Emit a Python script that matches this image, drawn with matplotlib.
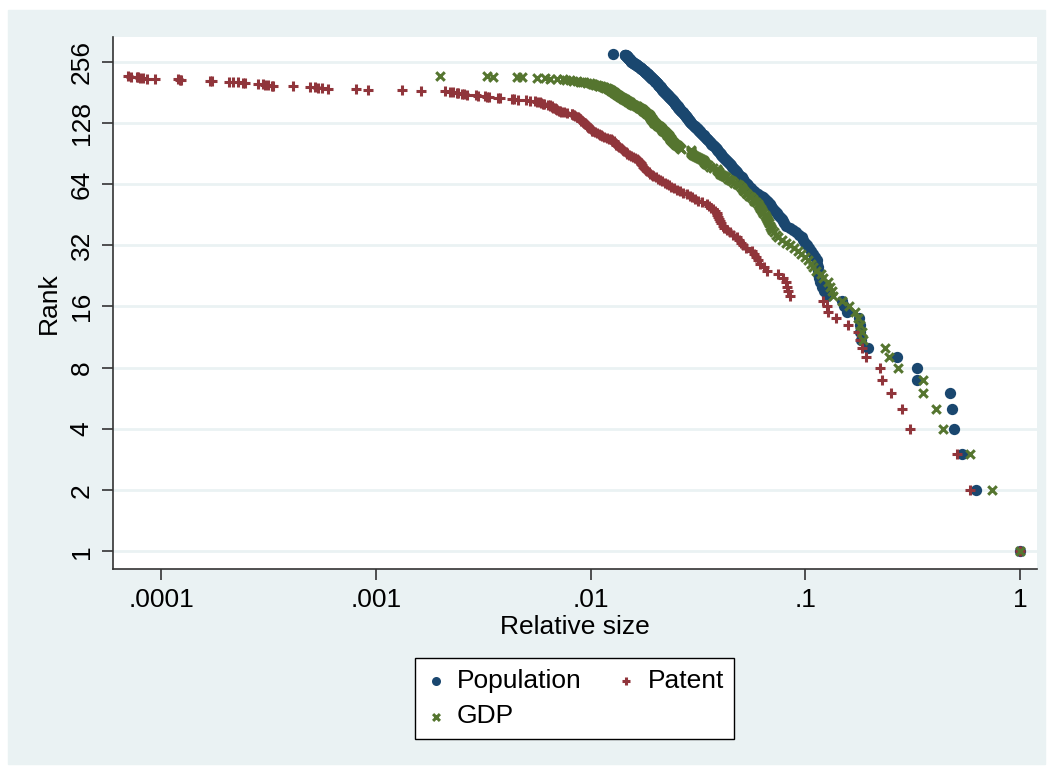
import matplotlib
matplotlib.use("Agg")
import matplotlib.pyplot as plt
from matplotlib.patches import Rectangle
import numpy as np

plt.rcParams['font.family'] = ['Liberation Sans', 'DejaVu Sans']

# relative size of each city, listed by rank (rank 1 first)
population = [
    1.0, 0.624, 0.538, 0.493, 0.482, 0.474, 0.330, 0.330, 0.267, 0.195,
    0.181, 0.179, 0.179, 0.178, 0.156, 0.152, 0.148, 0.126, 0.122, 0.119,
    0.117, 0.116, 0.115, 0.1145, 0.114, 0.1135, 0.113, 0.111, 0.109, 0.1065,
    0.1045, 0.102, 0.0995, 0.098, 0.0965, 0.0935, 0.0905, 0.0875, 0.0845, 0.0815,
    0.0800, 0.0787, 0.0775, 0.0762, 0.0749, 0.0735, 0.0720, 0.0706, 0.0697, 0.0690,
    0.0683, 0.0672, 0.0660, 0.0648, 0.0636, 0.0620, 0.0604, 0.0590, 0.0578, 0.0567,
    0.0557, 0.0548, 0.0540, 0.0533, 0.0527, 0.0521, 0.0515, 0.0510, 0.0505, 0.0499,
    0.0492, 0.0486, 0.0481, 0.0476, 0.0471, 0.0466, 0.0461, 0.0456, 0.0451, 0.0446,
    0.0441, 0.0436, 0.0431, 0.0426, 0.0422, 0.0418, 0.0414, 0.0410, 0.0407, 0.0403,
    0.0400, 0.0396, 0.0393, 0.0389, 0.0386, 0.0382, 0.0379, 0.0375, 0.0372, 0.0368,
    0.0365, 0.0362, 0.0358, 0.0355, 0.0352, 0.0349, 0.0347, 0.0344, 0.0341, 0.0339,
    0.0336, 0.0333, 0.0331, 0.0328, 0.0325, 0.0323, 0.0320, 0.0318, 0.0315, 0.0312,
    0.0310, 0.0307, 0.0305, 0.0302, 0.0300, 0.0298, 0.0295, 0.0293, 0.0290, 0.0289,
    0.0287, 0.0286, 0.0284, 0.0283, 0.0281, 0.0280, 0.0278, 0.0277, 0.0275, 0.0274,
    0.0272, 0.0271, 0.0269, 0.0268, 0.0266, 0.0265, 0.0264, 0.0262, 0.0261, 0.0259,
    0.0258, 0.0256, 0.0255, 0.0254, 0.0253, 0.0251, 0.0250, 0.0249, 0.0248, 0.0247,
    0.0245, 0.0244, 0.0243, 0.0242, 0.0241, 0.0239, 0.0238, 0.0237, 0.0236, 0.0235,
    0.0233, 0.0232, 0.0231, 0.0230, 0.0229, 0.0227, 0.0226, 0.0225, 0.0224, 0.0223,
    0.0221, 0.0220, 0.0219, 0.0218, 0.0217, 0.0216, 0.0215, 0.0214, 0.0213, 0.0213,
    0.0212, 0.0211, 0.0210, 0.0209, 0.0208, 0.0207, 0.0206, 0.0206, 0.0205, 0.0204,
    0.0203, 0.0202, 0.0201, 0.0200, 0.0199, 0.0199, 0.0198, 0.0197, 0.0196, 0.0195,
    0.0194, 0.0193, 0.0192, 0.0192, 0.0191, 0.0190, 0.0189, 0.0188, 0.0187, 0.0186,
    0.0185, 0.0185, 0.0184, 0.0183, 0.0182, 0.0181, 0.0180, 0.0180, 0.0179, 0.0178,
    0.0177, 0.0176, 0.0175, 0.0174, 0.0173, 0.0172, 0.0172, 0.0171, 0.0170, 0.0169,
    0.0168, 0.0167, 0.0166, 0.0165, 0.0164, 0.0164, 0.0163, 0.0162, 0.0161, 0.0160,
    0.0159, 0.0158, 0.0157, 0.0157, 0.0156, 0.0155, 0.0154, 0.0154, 0.0153, 0.0153,
    0.0152, 0.0152, 0.0151, 0.0151, 0.0150, 0.0150, 0.0149, 0.0149, 0.0148, 0.0148,
    0.0147, 0.0147, 0.0146, 0.0146, 0.0145, 0.01445, 0.0144, 0.01276,
]

patent = [
    1.0, 0.585, 0.507, 0.307, 0.283, 0.251, 0.227, 0.223, 0.191, 0.183,
    0.180, 0.1766, 0.1585, 0.139, 0.128, 0.1258, 0.1213, 0.0848, 0.0835, 0.0825,
    0.0812, 0.0790, 0.0749, 0.0661, 0.0640, 0.0615, 0.0600, 0.0588, 0.0576, 0.0565,
    0.0530, 0.0510, 0.0500, 0.0490, 0.0480, 0.0462, 0.0445, 0.0431, 0.0418, 0.0412,
    0.0406, 0.0401, 0.0396, 0.0392, 0.0389, 0.0386, 0.0380, 0.0372, 0.0364, 0.0355,
    0.0347, 0.0330, 0.0315, 0.0308, 0.0298, 0.0290, 0.0280, 0.0268, 0.0260, 0.0252,
    0.0244, 0.0237, 0.0231, 0.0226, 0.0221, 0.0216, 0.0211, 0.0206, 0.0201, 0.0196,
    0.0193, 0.0190, 0.0187, 0.0184, 0.0181, 0.0179, 0.0177, 0.0175, 0.0173, 0.0172,
    0.0171, 0.0170, 0.0168, 0.0166, 0.0164, 0.0161, 0.0158, 0.0155, 0.0151, 0.0148,
    0.0147, 0.0146, 0.0143, 0.0141, 0.0140, 0.0139, 0.0136, 0.0134, 0.0133, 0.0132,
    0.0131, 0.0130, 0.0129, 0.0128, 0.0126, 0.0124, 0.0122, 0.0119, 0.0116, 0.0113,
    0.0112, 0.0111, 0.0110, 0.0107, 0.0105, 0.0103, 0.0102, 0.0101, 0.0100, 0.0099,
    0.0098, 0.0097, 0.0097, 0.0096, 0.0096, 0.0095, 0.0094, 0.0093, 0.0092, 0.0091,
    0.0090, 0.0090, 0.0089, 0.0089, 0.0088, 0.0087, 0.0086, 0.0085, 0.0084, 0.0083,
    0.0082, 0.0082, 0.0078, 0.0075, 0.0073, 0.0072, 0.0071, 0.0070, 0.0069, 0.0069,
    0.0068, 0.0067, 0.0066, 0.0066, 0.0065, 0.0065, 0.0063, 0.0061, 0.0060, 0.0059,
    0.0058, 0.0056, 0.0055, 0.0052, 0.0050, 0.0046, 0.0044, 0.0043, 0.0038, 0.0037,
    0.00335, 0.00328, 0.00322, 0.0030, 0.00292, 0.00265, 0.00258, 0.00251, 0.00242, 0.00238,
    0.00229, 0.00221, 0.0021, 0.00163, 0.00132, 0.00092, 0.00081, 0.00060, 0.00056, 0.00054,
    0.00052, 0.000493, 0.000412, 0.00033, 0.000327, 0.000315, 0.000305, 0.000299, 0.000283, 0.000245,
    0.000241, 0.000229, 0.000217, 0.000206, 0.000172, 0.000169, 0.000124, 0.000122, 0.000120, 0.0000935,
    0.0000855, 0.0000822, 0.0000797, 0.0000782, 0.0000769, 0.0000720, 0.0000703,
]

gdp = [
    1.0, 0.743, 0.585, 0.4365, 0.405, 0.354, 0.352, 0.271, 0.246, 0.235,
    0.186, 0.183, 0.180, 0.1766, 0.170, 0.160, 0.148, 0.135, 0.133, 0.1303,
    0.128, 0.1213, 0.118, 0.1125, 0.109, 0.106, 0.1025, 0.0995, 0.096, 0.092,
    0.0885, 0.0849, 0.081, 0.078, 0.0750, 0.0730, 0.0716, 0.0703, 0.0690, 0.0682,
    0.0674, 0.0667, 0.0660, 0.0653, 0.0646, 0.0638, 0.0630, 0.0623, 0.0617, 0.0609,
    0.0599, 0.0589, 0.0579, 0.0569, 0.0558, 0.0548, 0.0538, 0.0529, 0.0521, 0.0514,
    0.0508, 0.0502, 0.0490, 0.0480, 0.0468, 0.0456, 0.0446, 0.0437, 0.0428, 0.0418,
    0.0409, 0.0401, 0.0396, 0.0392, 0.0389, 0.0387, 0.0372, 0.0360, 0.0352, 0.0345,
    0.0340, 0.0338, 0.0336, 0.0335, 0.0328, 0.0320, 0.0313, 0.0306, 0.0300, 0.0296,
    0.0295, 0.0294, 0.0294, 0.0292, 0.0265, 0.0261, 0.0258, 0.0255, 0.0252, 0.0249,
    0.0246, 0.0244, 0.0242, 0.0240, 0.0238, 0.0236, 0.0235, 0.0234, 0.0233, 0.0231,
    0.0229, 0.0227, 0.0226, 0.0224, 0.0222, 0.0220, 0.0218, 0.0216, 0.0214, 0.0213,
    0.0212, 0.0211, 0.0208, 0.0206, 0.0204, 0.0202, 0.0200, 0.0198, 0.0197, 0.0196,
    0.0195, 0.0194, 0.0193, 0.0192, 0.0191, 0.0190, 0.0189, 0.0189, 0.0188, 0.0188,
    0.0186, 0.0184, 0.0182, 0.0180, 0.0179, 0.0177, 0.0176, 0.0175, 0.0174, 0.0171,
    0.0169, 0.0168, 0.0166, 0.0164, 0.0162, 0.0160, 0.0158, 0.0156, 0.0154, 0.0153,
    0.0152, 0.0150, 0.0149, 0.0148, 0.0146, 0.0145, 0.0144, 0.0142, 0.0141, 0.0140,
    0.0138, 0.0137, 0.0136, 0.0135, 0.0134, 0.0133, 0.0132, 0.0131, 0.0130, 0.0129,
    0.0128, 0.0127, 0.0126, 0.0125, 0.0124, 0.0123, 0.0122, 0.0120, 0.0119, 0.0117,
    0.0115, 0.0114, 0.0112, 0.0110, 0.0109, 0.0107, 0.0105, 0.0103, 0.0101, 0.0099,
    0.0096, 0.0093, 0.0091, 0.0089, 0.0086, 0.0083, 0.0080, 0.0077, 0.0074, 0.00695,
    0.00647, 0.00613, 0.00561, 0.00478, 0.00453, 0.00352, 0.00328, 0.00199,
]

x_ticks = [0.0001, 0.001, 0.01, 0.1, 1]
x_tick_labels = [".0001", ".001", ".01", ".1", "1"]
y_ticks = [1, 2, 4, 8, 16, 32, 64, 128, 256]

navy = "#1a476f"
maroon = "#90353b"
green = "#55752f"
region = "#eaf2f3"
axis_col = "#333333"

W, H = 1053, 774
fig = plt.figure(figsize=(W / 100, H / 100), dpi=100)
# light graph region behind everything, with a thin white margin
fig.add_artist(Rectangle((8 / W, 10 / H), (1045 - 8) / W, (764 - 10) / H,
                         transform=fig.transFigure, color=region, zorder=-10))

ax = fig.add_axes([113 / W, 1 - 569 / H, (1037 - 113) / W, (569 - 37) / H])
ax.set_facecolor("white")

fs = 19
p1 = ax.scatter(population, np.arange(1, len(population) + 1), s=66, marker="o",
                color=navy, linewidths=0, zorder=3, label="Population")
p2 = ax.scatter(patent, np.arange(1, len(patent) + 1), s=55, marker="+",
                color=maroon, linewidths=2.2, zorder=4, label="Patent")
p3 = ax.scatter(gdp, np.arange(1, len(gdp) + 1), s=38, marker="x",
                color=green, linewidths=2.2, zorder=5, label="GDP")

ax.set_xscale("log")
ax.set_yscale("log", base=2)
ax.set_xlim(5.965e-5, 1.2)
ax.set_ylim(0.8203, 337.8)

ax.set_xticks(x_ticks)
ax.set_xticklabels(x_tick_labels)
ax.set_yticks(y_ticks)
ax.set_yticklabels([str(t) for t in y_ticks])
ax.minorticks_off()
for lab in ax.get_yticklabels():
    lab.set_rotation(90)
    lab.set_va("center")

ax.tick_params(axis="both", direction="out", length=8, width=1.2,
               color=axis_col, labelsize=fs, pad=6)
ax.grid(axis="y", color=region, linewidth=2, zorder=0)
ax.set_axisbelow(True)

for side in ["top", "right"]:
    ax.spines[side].set_visible(False)
for side in ["left", "bottom"]:
    ax.spines[side].set_color(axis_col)
    ax.spines[side].set_linewidth(1.2)

ax.set_xlabel("Relative size", fontsize=fs, labelpad=2)
ax.set_ylabel("Rank", fontsize=fs, labelpad=6)

leg = ax.legend(handles=[p1, p3, p2], loc="center",
                bbox_to_anchor=(574.5 / W, 1 - 698.5 / H),
                bbox_transform=fig.transFigure, ncol=2, fontsize=fs,
                frameon=True, fancybox=False, framealpha=1, edgecolor="black",
                markerscale=0.8, handletextpad=0.4, columnspacing=1.3,
                borderpad=0.4, labelspacing=0.45, handlelength=0.8)
leg.get_frame().set_linewidth(1.0)

fig.savefig("out.png", dpi=100)
